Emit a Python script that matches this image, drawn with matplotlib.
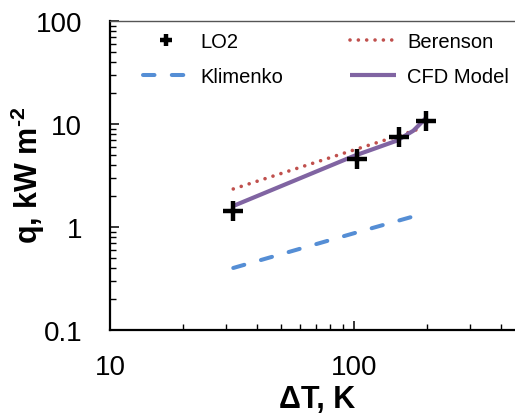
import numpy as np
import matplotlib
matplotlib.use('Agg')
import matplotlib.pyplot as plt
from matplotlib.ticker import LogLocator, FuncFormatter, NullFormatter

plt.rcParams['font.family'] = ['Liberation Sans', 'DejaVu Sans']
plt.rcParams['mathtext.fontset'] = 'custom'
plt.rcParams['mathtext.rm'] = 'Liberation Sans'
plt.rcParams['mathtext.bf'] = 'Liberation Sans:bold'

# measured heat flux, LO2
dT_lo2 = [32, 103, 153, 197]
q_lo2 = [1.43, 4.6, 7.5, 10.7]

# Berenson correlation
dT_ber = [32, 100, 150, 190]
q_ber = [2.34, 5.6, 7.6, 9.15]

# Klimenko correlation
dT_kli = [32, 100, 178]
q_kli = [0.40, 0.87, 1.28]

# CFD model
dT_cfd = [32, 100, 150, 175, 197]
q_cfd = [1.6, 4.9, 6.9, 8.6, 11.4]

fig = plt.figure(figsize=(5.15, 4.14), dpi=100)
ax = fig.add_axes([0.2136, 0.2005, 0.805, 0.7464])

ax.plot(dT_lo2, q_lo2, linestyle='none', marker='+', color='black',
        markersize=14, markeredgewidth=3.2, label='LO2', zorder=4)
ax.plot(dT_kli, q_kli, color='#558ED5', lw=2.9,
        linestyle=(0, (2.85, 4.3)), dash_capstyle='round', label='Klimenko')
ax.plot(dT_ber, q_ber, color='#C0504D', lw=2.6,
        linestyle=(0, (0.01, 2.3)), dash_capstyle='round', label='Berenson')
ax.plot(dT_cfd, q_cfd, color='#8064A2', lw=3.0, label='CFD Model',
        solid_capstyle='butt', zorder=3)

ax.set_xscale('log')
ax.set_yscale('log')
ax.set_xlim(10, 500)
ax.set_ylim(0.1, 100)

fmt = FuncFormatter(lambda v, p: '%g' % v)
ax.xaxis.set_major_formatter(fmt)
ax.yaxis.set_major_formatter(fmt)
ax.xaxis.set_minor_locator(LogLocator(base=10, subs=np.arange(2, 10)))
ax.yaxis.set_minor_locator(LogLocator(base=10, subs=np.arange(2, 10)))
ax.xaxis.set_minor_formatter(NullFormatter())
ax.yaxis.set_minor_formatter(NullFormatter())

ax.tick_params(which='major', direction='in', length=6.5, width=1.1,
               labelsize=20, top=False, right=False)
ax.tick_params(which='minor', direction='in', length=4.5, width=1,
               top=False, right=False)
ax.tick_params(axis='x', which='major', pad=17)
ax.tick_params(axis='y', which='major', pad=20)

for s in ['left', 'bottom']:
    ax.spines[s].set_linewidth(1.6)
ax.spines['top'].set_linewidth(1.0)
ax.spines['top'].set_color('#555555')

ax.set_xlabel('ΔT, K', fontsize=22, fontweight='bold')
ax.set_ylabel('q, kW m$^\\mathbf{\u2010 2}$', fontsize=22, fontweight='bold')
ax.xaxis.set_label_coords(0.499, -0.175)
ax.yaxis.set_label_coords(-0.152, 0.505)

handles, labels = ax.get_legend_handles_labels()
ax.legend(handles, labels, ncol=2, loc='upper left',
          bbox_to_anchor=(0.08, 0.965), frameon=False, fontsize=14.5,
          handlelength=2.3, handletextpad=0.55, columnspacing=3.3,
          labelspacing=0.8, borderpad=0, borderaxespad=0, markerscale=0.6)

fig.savefig('out.png', dpi=100)
